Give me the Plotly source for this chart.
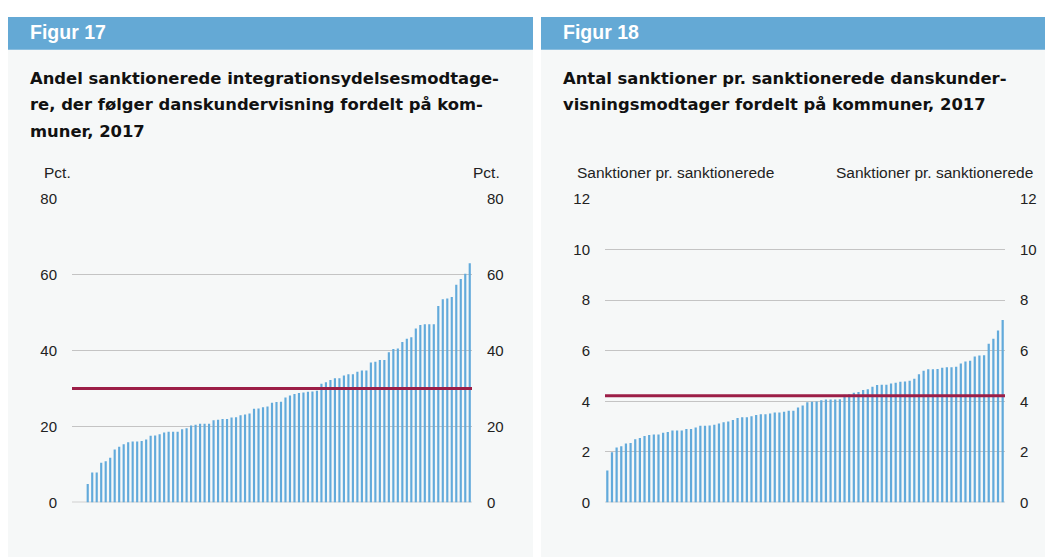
import plotly.graph_objects as go

# the page body has an 8px margin; sizes chosen so the panels reach the window edges
W, H = 1037, 560
OFF = 8
VS = 0.968  # vertical factor seen between page and photo

# Figur 17: andel (pct.) pr. kommune, sorteret
andel_pct = [4.9, 7.9, 7.9, 10.5, 10.9, 11.8, 14.0, 14.7, 15.4, 15.9,
             16.1, 16.1, 16.2, 16.6, 17.6, 17.7, 18.0, 18.5, 18.7, 18.7,
             18.7, 19.3, 19.6, 20.3, 20.5, 20.8, 20.8, 20.8, 21.7, 21.8,
             22.0, 22.0, 22.4, 22.5, 23.0, 23.2, 23.5, 24.7, 24.8, 25.1,
             25.3, 26.3, 26.5, 26.6, 27.7, 28.2, 28.6, 28.9, 29.0, 29.2,
             29.3, 29.5, 31.3, 31.7, 32.3, 32.8, 32.8, 33.5, 33.8, 33.8,
             34.5, 34.8, 34.8, 36.9, 37.1, 37.6, 37.6, 39.6, 40.5, 40.6,
             42.3, 43.2, 43.6, 45.9, 46.8, 47.0, 47.0, 47.0, 51.8, 53.6,
             53.8, 54.2, 57.4, 58.9, 60.3, 63.1]
andel_gns = 30.1

# Figur 18: sanktioner pr. sanktionerede pr. kommune, sorteret
sanktioner = [1.27, 1.99, 2.18, 2.23, 2.34, 2.36, 2.50, 2.55, 2.63, 2.67,
              2.69, 2.69, 2.76, 2.79, 2.85, 2.85, 2.85, 2.91, 2.91, 2.97,
              3.04, 3.04, 3.05, 3.08, 3.13, 3.18, 3.21, 3.26, 3.34, 3.37,
              3.37, 3.41, 3.46, 3.49, 3.49, 3.52, 3.56, 3.56, 3.59, 3.63,
              3.63, 3.76, 3.84, 3.97, 3.99, 4.00, 4.05, 4.08, 4.08, 4.08,
              4.09, 4.26, 4.28, 4.34, 4.37, 4.45, 4.48, 4.58, 4.65, 4.66,
              4.66, 4.71, 4.74, 4.78, 4.79, 4.82, 4.90, 5.07, 5.21, 5.27,
              5.27, 5.28, 5.33, 5.35, 5.35, 5.37, 5.50, 5.58, 5.61, 5.78,
              5.81, 5.82, 6.28, 6.48, 6.80, 7.22]
sanktioner_gns = 4.22

ticks17 = [0, 20, 40, 60, 80]
ticks18 = [0, 2, 4, 6, 8, 10, 12]

titel17 = ["Andel sanktionerede integrationsydelsesmodtage-",
           "re, der følger danskundervisning fordelt på kom-",
           "muner, 2017"]
titel18 = ["Antal sanktioner pr. sanktionerede danskunder-",
           "visningsmodtager fordelt på kommuner, 2017"]

BLUE = '#64a9d5'
BAR = '#62aadb'
RED = '#9c1e47'
PANEL = '#f6f8f8'
GRID = '#c4c4c4'
FONT = 'Liberation Sans, Arial, sans-serif'
TFONT = 'DejaVu Sans, sans-serif'

# wanted photo pixel -> paper fraction
def px(x):
    return (x - OFF) / W

def py(y):
    return 1 - ((y - OFF) / VS - OFF) / H

fig = go.Figure()

fig.add_trace(go.Bar(x=list(range(len(andel_pct))), y=andel_pct,
                     marker=dict(color=BAR, line=dict(width=0)),
                     xaxis='x', yaxis='y', showlegend=False))
fig.add_trace(go.Bar(x=list(range(len(sanktioner))), y=sanktioner,
                     marker=dict(color=BAR, line=dict(width=0)),
                     xaxis='x2', yaxis='y2', showlegend=False))

ydom = [py(500.5), py(197.5)]
yax = dict(showline=False, zeroline=False, tickfont=dict(size=15, color='#222'),
           ticklabelstandoff=14, fixedrange=True)

fig.update_layout(
    width=W, height=H,
    margin=dict(l=0, r=0, t=0, b=0),
    paper_bgcolor='white', plot_bgcolor='rgba(0,0,0,0)',
    font=dict(family=FONT, color='#111'),
    bargap=0.52,
    xaxis=dict(domain=[px(72), px(472)], range=[-3.5, 85.5],
               showticklabels=False, showgrid=False, zeroline=False,
               showline=False, ticks=''),
    xaxis2=dict(domain=[px(605), px(1005)], range=[-0.5, 85.5],
                showticklabels=False, showgrid=False, zeroline=False,
                showline=False, ticks=''),
    yaxis=dict(domain=ydom, anchor='x', range=[0, 80], tickvals=ticks17,
               showgrid=True, gridcolor=GRID, gridwidth=1, **yax),
    yaxis3=dict(overlaying='y', side='right', anchor='x', range=[0, 80],
                tickvals=ticks17, showgrid=False, **yax),
    yaxis2=dict(domain=ydom, anchor='x2', range=[0, 12], tickvals=ticks18,
                showgrid=True, gridcolor=GRID, gridwidth=1, **yax),
    yaxis4=dict(overlaying='y2', side='right', anchor='x2', range=[0, 12],
                tickvals=ticks18, showgrid=False, **yax),
)

# invisible traces so the right-hand axes render
fig.add_trace(go.Scatter(x=[0], y=[0], xaxis='x', yaxis='y3', mode='markers',
                         marker=dict(opacity=0), showlegend=False, hoverinfo='skip'))
fig.add_trace(go.Scatter(x=[0], y=[0], xaxis='x2', yaxis='y4', mode='markers',
                         marker=dict(opacity=0), showlegend=False, hoverinfo='skip'))

shapes = []
# panels and header bands
for x0, x1 in [(8, 533), (541, 1053)]:
    shapes.append(dict(type='rect', xref='paper', yref='paper', layer='below',
                       x0=px(x0), x1=px(x1), y0=0, y1=py(48.5),
                       fillcolor=PANEL, line=dict(width=0)))
    shapes.append(dict(type='rect', xref='paper', yref='paper', layer='below',
                       x0=px(x0), x1=px(x1), y0=py(48.5), y1=min(1, py(13)),
                       fillcolor=BLUE, line=dict(width=0)))
# baselines
for xr, yr in [('x', 'y'), ('x2', 'y2')]:
    shapes.append(dict(type='line', xref=f'{xr} domain', yref=yr,
                       x0=0, x1=1, y0=0, y1=0, layer='below',
                       line=dict(color='#d0d0d0', width=2)))
# gennemsnit
shapes.append(dict(type='line', xref='x domain', yref='y', x0=0, x1=1,
                   y0=andel_gns, y1=andel_gns, line=dict(color=RED, width=3)))
shapes.append(dict(type='line', xref='x2 domain', yref='y2', x0=0, x1=1,
                   y0=sanktioner_gns, y1=sanktioner_gns, line=dict(color=RED, width=3)))
fig.update_layout(shapes=shapes)

ann = []
ann.append(dict(text='<b>Figur 17</b>', x=px(28), y=py(31), xanchor='left', yanchor='middle',
                font=dict(size=19.5, color='white')))
ann.append(dict(text='<b>Figur 18</b>', x=px(561), y=py(31), xanchor='left', yanchor='middle',
                font=dict(size=19.5, color='white')))
for i, line in enumerate(titel17):
    ann.append(dict(text=f'<b>{line}</b>', x=px(28), y=py(77 + 26.5 * i),
                    xanchor='left', yanchor='middle',
                    font=dict(family=TFONT, size=16.4, color='#111')))
for i, line in enumerate(titel18):
    ann.append(dict(text=f'<b>{line}</b>', x=px(561), y=py(77 + 26.5 * i),
                    xanchor='left', yanchor='middle',
                    font=dict(family=TFONT, size=16.4, color='#111')))
unit = dict(size=15.5, color='#222')
ann.append(dict(text='Pct.', x=px(42), y=py(171), xanchor='left', yanchor='middle', font=unit))
ann.append(dict(text='Pct.', x=px(502), y=py(171), xanchor='right', yanchor='middle', font=unit))
ann.append(dict(text='Sanktioner pr. sanktionerede', x=px(575), y=py(171),
                xanchor='left', yanchor='middle', font=unit))
ann.append(dict(text='Sanktioner pr. sanktionerede', x=px(1035), y=py(171),
                xanchor='right', yanchor='middle', font=unit))
for a in ann:
    a.update(xref='paper', yref='paper', showarrow=False)
fig.update_layout(annotations=ann)

fig.write_html("out.html")
